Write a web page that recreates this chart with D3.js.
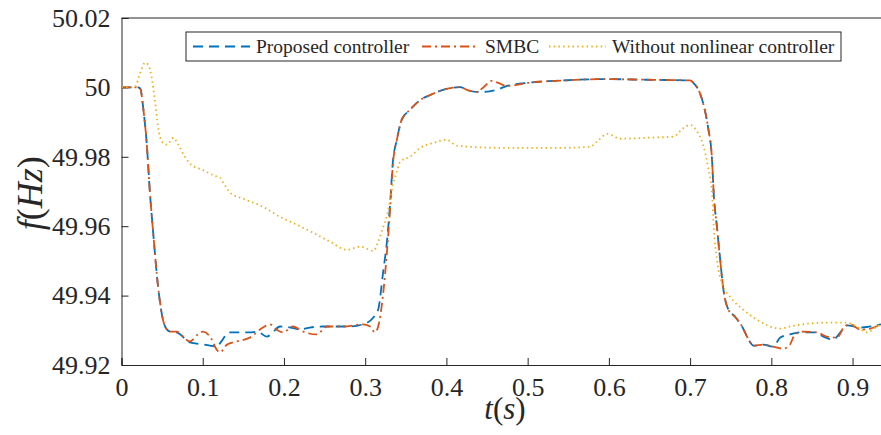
<!DOCTYPE html>
<html>
<head>
<meta charset="utf-8">
<script src="https://cdn.jsdelivr.net/npm/d3@7"></script>
<style>
  body { margin: 0; background: #fff; }
  svg { display: block; }
</style>
</head>
<body>
<script>
// Proposed controller
const tProposed = [0, 0.020, 0.023, 0.027, 0.031, 0.035, 0.039, 0.045, 0.051, 0.056, 0.060, 0.068, 0.084, 0.101, 0.109, 0.117, 0.123, 0.132, 0.142, 0.158, 0.167, 0.179, 0.187, 0.195, 0.208, 0.220, 0.232, 0.248, 0.265, 0.281, 0.297, 0.310, 0.316, 0.322, 0.327, 0.331, 0.334, 0.339, 0.345, 0.355, 0.368, 0.380, 0.396, 0.417, 0.425, 0.437, 0.445, 0.462, 0.474, 0.503, 0.544, 0.593, 0.647, 0.700, 0.704, 0.712, 0.716, 0.722, 0.727, 0.729, 0.733, 0.737, 0.741, 0.747, 0.755, 0.764, 0.772, 0.778, 0.790, 0.802, 0.811, 0.823, 0.836, 0.852, 0.864, 0.876, 0.885, 0.893, 0.910, 0.922, 0.935]
const fProposed = [50.0000, 50.0000, 49.9997, 49.9935, 49.9840, 49.9696, 49.9581, 49.9426, 49.9331, 49.9302, 49.9296, 49.9294, 49.9265, 49.9259, 49.9256, 49.9253, 49.9268, 49.9294, 49.9294, 49.9294, 49.9296, 49.9282, 49.9296, 49.9311, 49.9308, 49.9302, 49.9308, 49.9311, 49.9311, 49.9311, 49.9317, 49.9337, 49.9360, 49.9466, 49.9561, 49.9676, 49.9783, 49.9849, 49.9907, 49.9935, 49.9964, 49.9978, 49.9993, 50.0001, 49.9993, 49.9987, 49.9987, 49.9993, 50.0004, 50.0014, 50.0020, 50.0024, 50.0022, 50.0020, 50.0013, 49.9984, 49.9955, 49.9886, 49.9791, 49.9696, 49.9599, 49.9504, 49.9417, 49.9360, 49.9340, 49.9311, 49.9273, 49.9256, 49.9259, 49.9253, 49.9279, 49.9288, 49.9294, 49.9294, 49.9282, 49.9273, 49.9294, 49.9314, 49.9308, 49.9311, 49.9317]

// SMBC
const tSmbc = [0, 0.020, 0.023, 0.027, 0.031, 0.035, 0.039, 0.045, 0.051, 0.056, 0.060, 0.068, 0.084, 0.094, 0.100, 0.109, 0.117, 0.121, 0.130, 0.142, 0.158, 0.174, 0.183, 0.191, 0.199, 0.211, 0.224, 0.240, 0.253, 0.273, 0.297, 0.306, 0.312, 0.316, 0.322, 0.327, 0.331, 0.334, 0.339, 0.345, 0.355, 0.368, 0.380, 0.396, 0.417, 0.425, 0.437, 0.445, 0.456, 0.464, 0.474, 0.503, 0.544, 0.593, 0.647, 0.700, 0.704, 0.712, 0.716, 0.722, 0.727, 0.729, 0.733, 0.737, 0.741, 0.747, 0.755, 0.764, 0.772, 0.778, 0.790, 0.802, 0.815, 0.823, 0.829, 0.839, 0.856, 0.868, 0.881, 0.889, 0.897, 0.910, 0.922, 0.935]
const fSmbc = [50.0000, 50.0000, 49.9997, 49.9935, 49.9840, 49.9696, 49.9581, 49.9426, 49.9331, 49.9302, 49.9296, 49.9296, 49.9268, 49.9288, 49.9296, 49.9282, 49.9245, 49.9236, 49.9259, 49.9268, 49.9279, 49.9308, 49.9317, 49.9302, 49.9294, 49.9311, 49.9296, 49.9288, 49.9311, 49.9311, 49.9317, 49.9311, 49.9294, 49.9311, 49.9403, 49.9532, 49.9662, 49.9777, 49.9849, 49.9907, 49.9935, 49.9964, 49.9978, 49.9993, 50.0001, 49.9993, 49.9987, 49.9999, 50.0019, 50.0013, 50.0004, 50.0014, 50.0020, 50.0024, 50.0022, 50.0020, 50.0013, 49.9984, 49.9955, 49.9886, 49.9791, 49.9696, 49.9599, 49.9504, 49.9417, 49.9360, 49.9340, 49.9311, 49.9273, 49.9256, 49.9259, 49.9253, 49.9247, 49.9259, 49.9288, 49.9296, 49.9294, 49.9282, 49.9279, 49.9308, 49.9317, 49.9302, 49.9305, 49.9317]

// Without nonlinear controller
const tWithout = [0, 0.015, 0.017, 0.023, 0.029, 0.033, 0.037, 0.041, 0.045, 0.050, 0.056, 0.064, 0.070, 0.078, 0.086, 0.099, 0.115, 0.121, 0.127, 0.134, 0.150, 0.174, 0.195, 0.216, 0.236, 0.257, 0.277, 0.294, 0.310, 0.316, 0.321, 0.327, 0.334, 0.339, 0.343, 0.355, 0.368, 0.384, 0.400, 0.413, 0.462, 0.503, 0.544, 0.577, 0.585, 0.598, 0.614, 0.647, 0.679, 0.692, 0.700, 0.708, 0.716, 0.722, 0.727, 0.729, 0.733, 0.741, 0.749, 0.765, 0.782, 0.811, 0.823, 0.844, 0.868, 0.893, 0.905, 0.918, 0.930, 0.935]
const fWithout = [50.0000, 50.0000, 50.0002, 50.0042, 50.0071, 50.0065, 50.0030, 49.9964, 49.9886, 49.9843, 49.9835, 49.9855, 49.9835, 49.9800, 49.9777, 49.9763, 49.9745, 49.9740, 49.9719, 49.9696, 49.9679, 49.9656, 49.9627, 49.9604, 49.9581, 49.9555, 49.9532, 49.9541, 49.9529, 49.9555, 49.9590, 49.9633, 49.9719, 49.9757, 49.9786, 49.9800, 49.9826, 49.9840, 49.9849, 49.9832, 49.9826, 49.9826, 49.9826, 49.9829, 49.9843, 49.9866, 49.9852, 49.9855, 49.9858, 49.9883, 49.9892, 49.9875, 49.9835, 49.9771, 49.9696, 49.9599, 49.9504, 49.9426, 49.9397, 49.9360, 49.9331, 49.9305, 49.9311, 49.9319, 49.9322, 49.9322, 49.9311, 49.9294, 49.9311, 49.9317]

const xTicks = [0, 0.1, 0.2, 0.3, 0.4, 0.5, 0.6, 0.7, 0.8, 0.9]
const yTicks = [49.92, 49.94, 49.96, 49.98, 50, 50.02]

const series = [
    { name: "Proposed controller", t: tProposed, f: fProposed, color: "#0072BD", dash: "10,6" },
    { name: "SMBC", t: tSmbc, f: fSmbc, color: "#D95319", dash: "9,4,2,4" },
    { name: "Without nonlinear controller", t: tWithout, f: fWithout, color: "#EDB120", dash: "1.5,3.2" }
]

const serif = "'Liberation Serif', 'Times New Roman', Times, serif"

/* ------------------------------------------------------------------------------
    GRAPH
------------------------------------------------------------------------------ */
const W = 881, H = 435
const margin = { top: 18, right: 0, bottom: 70, left: 121.5 }

const svg = d3.select("body")
    .append("svg")
    .attr("width", W)
    .attr("height", H)

// Echelles
const x = d3.scaleLinear()
    .domain([0, 0.935])
    .range([margin.left, W - margin.right])

const y = d3.scaleLinear()
    .domain([49.92, 50.02])
    .range([H - margin.bottom, margin.top])

/* ------------------------------------------------------------------------------
    AXES
------------------------------------------------------------------------------ */
const axisColor = "#262626"

// Axe X (ticks vers l'intérieur)
svg.append("g")
    .attr("transform", "translate(0," + y.range()[0] + ")")
    .call(d3.axisBottom(x).tickValues(xTicks).tickSize(-7).tickPadding(13)
        .tickFormat(d => d === 0 ? "0" : d3.format(".1f")(d)))

// Axe Y
svg.append("g")
    .attr("transform", "translate(" + margin.left + ",0)")
    .call(d3.axisLeft(y).tickValues(yTicks).tickSize(-7).tickPadding(11)
        .tickFormat(d => d === 50 ? "50" : d3.format(".2f")(d)))

svg.selectAll("g").attr("font-family", serif)

svg.selectAll(".domain, .tick line")
    .attr("stroke", axisColor)
    .attr("stroke-width", 1)

svg.selectAll(".tick text")
    .style("font-family", serif)
    .style("font-size", "26px")
    .attr("fill", axisColor)

// Bord du haut
svg.append("line")
    .attr("x1", margin.left).attr("x2", W)
    .attr("y1", margin.top).attr("y2", margin.top)
    .attr("stroke", axisColor)

/* ------------------------------------------------------------------------------
    COURBES
------------------------------------------------------------------------------ */
const clip = svg.append("clipPath").attr("id", "plot")
clip.append("rect")
    .attr("x", margin.left).attr("y", margin.top - 10)
    .attr("width", W - margin.left).attr("height", y.range()[0] - margin.top + 12)

const line = d3.line()
    .x(d => x(d[0]))
    .y(d => y(d[1]))
    .curve(d3.curveMonotoneX)

series.forEach(s => {
    svg.append("path")
        .datum(d3.zip(s.t, s.f))
        .attr("clip-path", "url(#plot)")
        .attr("fill", "none")
        .attr("stroke", s.color)
        .attr("stroke-width", 1.8)
        .attr("stroke-dasharray", s.dash)
        .attr("d", line)
})

/* ------------------------------------------------------------------------------
    LEGENDE
------------------------------------------------------------------------------ */
const legend = svg.append("g")
legend.append("rect")
    .attr("x", 186).attr("y", 32)
    .attr("width", 655).attr("height", 29)
    .attr("fill", "#fff")
    .attr("stroke", axisColor)
    .attr("stroke-width", 1)

const legendPos = [193, 422, 549]
series.forEach((s, i) => {
    legend.append("line")
        .attr("x1", legendPos[i]).attr("x2", legendPos[i] + 57)
        .attr("y1", 46.5).attr("y2", 46.5)
        .attr("stroke", s.color)
        .attr("stroke-width", 1.8)
        .attr("stroke-dasharray", s.dash)
    legend.append("text")
        .attr("x", legendPos[i] + 63)
        .attr("y", 53)
        .attr("fill", axisColor)
        .style("font-family", serif)
        .style("font-size", "19.5px")
        .text(s.name)
})

// Titres des axes (style LaTeX : lettres en italique, parenthèses droites)
function mathLabel(sel, parts) {
    parts.forEach(p => {
        sel.append("tspan")
            .style("font-family", serif)
            .style("font-style", p[1] ? "italic" : "normal")
            .text(p[0])
    })
}

const yLabel = svg.append("text")
    .attr("transform", "translate(42," + y(49.9695) + ") rotate(-90)")
    .attr("text-anchor", "middle")
    .attr("fill", axisColor)
    .style("font-family", serif)
    .style("font-size", "36px")
mathLabel(yLabel, [["f", true], ["(", false], ["Hz", true], [")", false]])

const xLabel = svg.append("text")
    .attr("x", 505)
    .attr("y", 419)
    .attr("text-anchor", "middle")
    .attr("fill", axisColor)
    .style("font-family", serif)
    .style("font-size", "31px")
mathLabel(xLabel, [["t", true], ["(", false], ["s", true], [")", false]])
</script>
</body>
</html>
